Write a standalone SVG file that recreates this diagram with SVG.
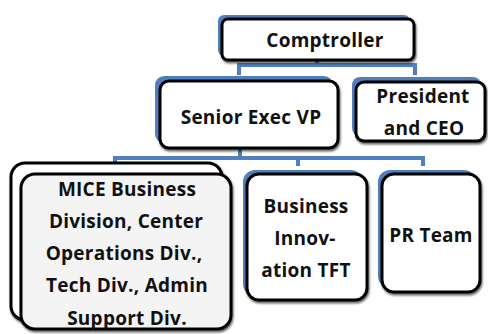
<svg xmlns="http://www.w3.org/2000/svg" width="488" height="334" viewBox="0 0 488 334">
  <defs>
    <filter id="soft" x="-10%" y="-10%" width="125%" height="125%">
      <feGaussianBlur in="SourceAlpha" stdDeviation="1.2"/>
      <feOffset dx="1" dy="1.5" result="b"/>
      <feComponentTransfer><feFuncA type="linear" slope="0.6"/></feComponentTransfer>
      <feMerge><feMergeNode/><feMergeNode in="SourceGraphic"/></feMerge>
    </filter>
  </defs>
  <style>
    .back { fill: #4f7fbd; }
    .box { fill: #ffffff; stroke: #000000; stroke-width: 3; filter: url(#soft); }
    .grey { fill: #f4f4f4; }
    .link { fill: none; stroke: #4f7fbd; stroke-width: 4; }
    text { font-family: "Open Sans", "Noto Sans", sans-serif; font-weight: bold; font-size: 19px; letter-spacing: 0.25px; fill: #111111; text-anchor: middle; }
  </style>

  <!-- connectors -->
  <g id="connectors">
    <path class="link" d="M317,60 V65 M239,75 V65 H415 V75"/>
    <path class="link" d="M240,148 V158 M115,166 V158 H423 V166 M298,158 V166"/>
  </g>

  <!-- top level -->
  <g id="comptroller">
    <rect class="back" x="218" y="15" width="192" height="41" rx="6"/>
    <rect class="box" x="222" y="19" width="192" height="41" rx="6"/>
    <text x="325" y="47">Comptroller</text>
  </g>

  <!-- second level -->
  <g id="senior-exec-vp">
    <rect class="back" x="155" y="76" width="178" height="67" rx="9"/>
    <rect class="box" x="160" y="81" width="178" height="67" rx="9"/>
    <text x="251" y="124">Senior Exec VP</text>
  </g>

  <g id="president-ceo">
    <rect class="back" x="352" y="77" width="129" height="59" rx="8"/>
    <rect class="box" x="356" y="82" width="129" height="59" rx="8"/>
    <text x="423" y="103">President</text>
    <text x="424" y="135">and CEO</text>
  </g>

  <!-- third level -->
  <g id="mice-divisions">
    <rect class="box" x="11" y="163" width="211" height="157" rx="14"/>
    <rect class="box grey" x="21" y="174" width="210" height="155" rx="14"/>
    <text x="127" y="196">MICE Business</text>
    <text x="126" y="228">Division, Center</text>
    <text x="124" y="260">Operations Div.,</text>
    <text x="127" y="292">Tech Div., Admin</text>
    <text x="127" y="325">Support Div.</text>
  </g>

  <g id="business-innovation-tft">
    <rect class="back" x="243" y="170" width="120" height="126" rx="12"/>
    <rect class="box" x="247" y="174" width="120" height="126" rx="12"/>
    <text x="306" y="213">Business</text>
    <text x="305" y="245">Innov-</text>
    <text x="306" y="277">ation TFT</text>
  </g>

  <g id="pr-team">
    <rect class="back" x="378" y="170" width="98" height="118" rx="12"/>
    <rect class="box" x="382" y="174" width="98" height="118" rx="12"/>
    <text x="431" y="242">PR Team</text>
  </g>
</svg>
